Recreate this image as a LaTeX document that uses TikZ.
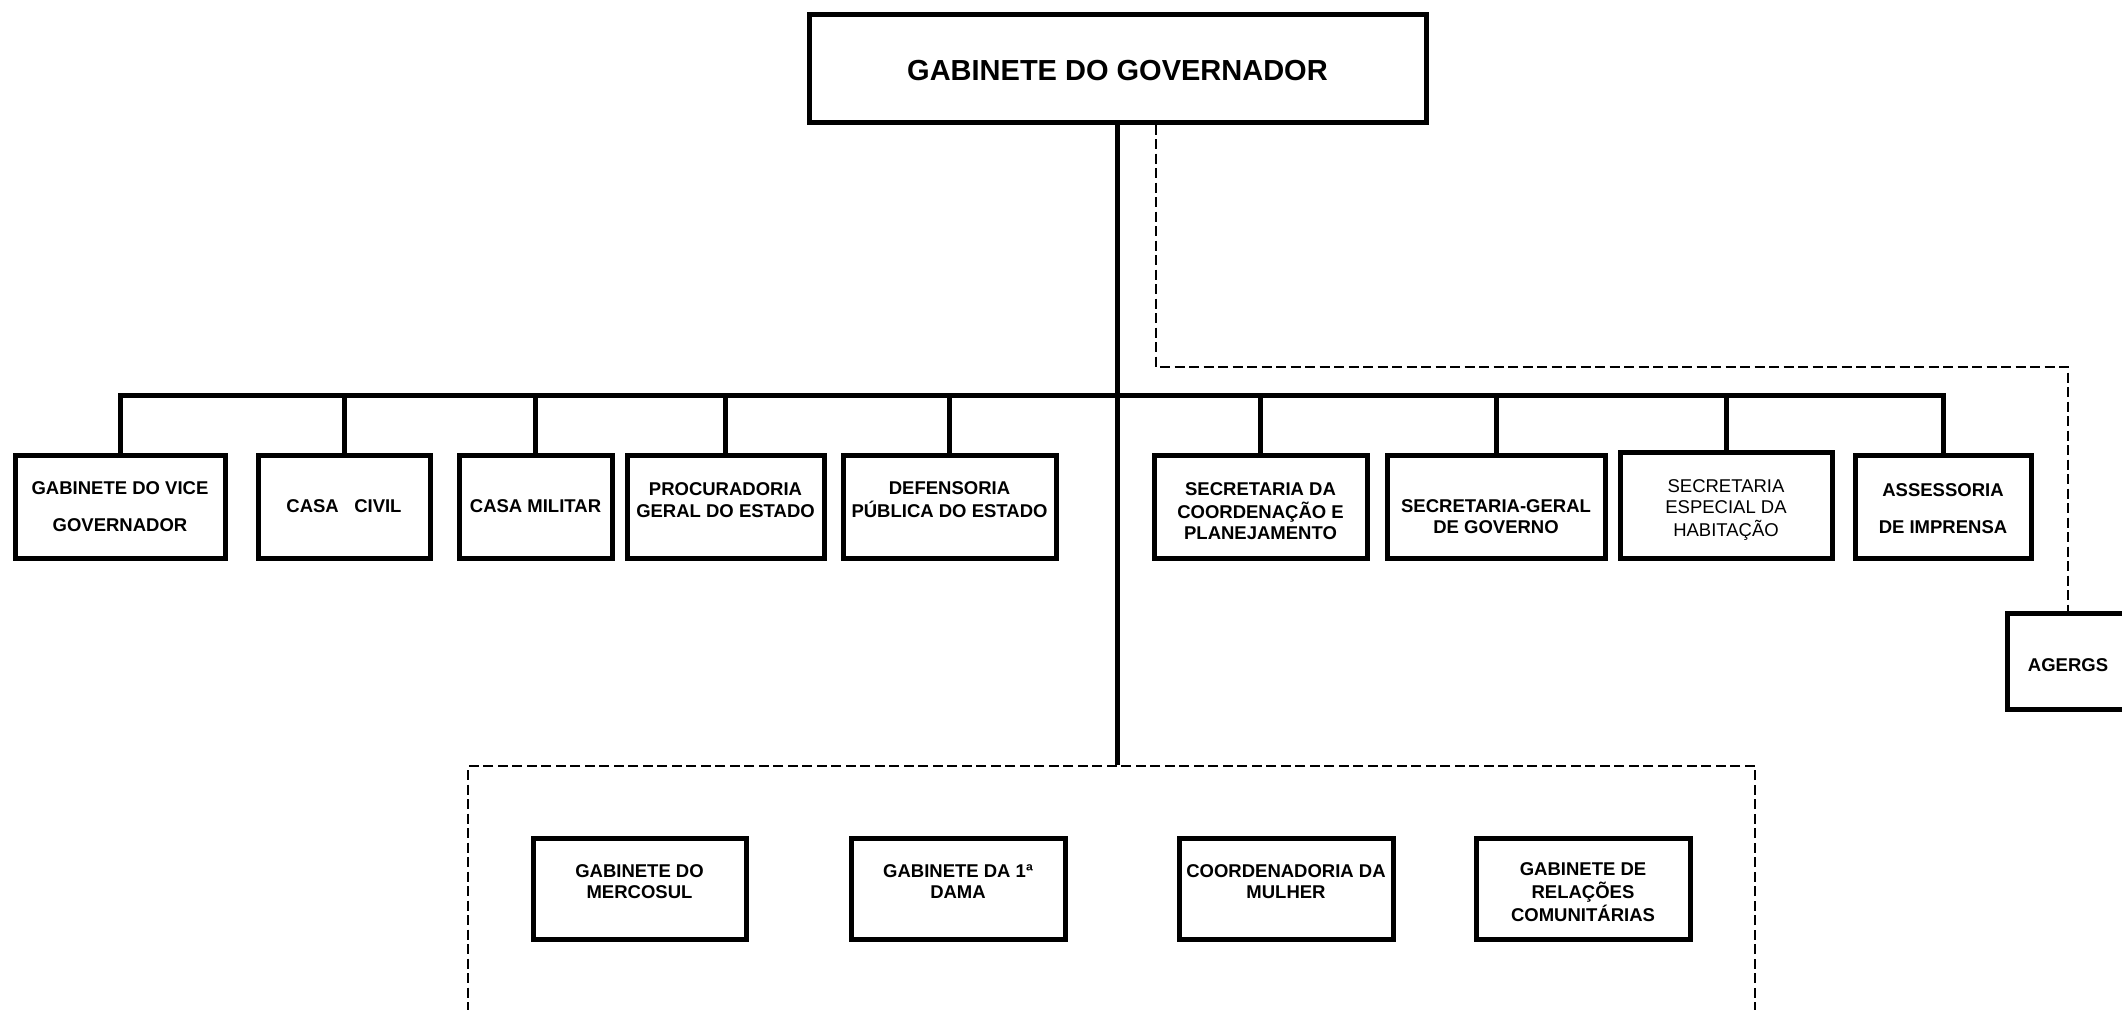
\documentclass[tikz,border=0pt]{standalone}
\usepackage{fontspec}
\setmainfont{Liberation Sans}
\newcommand{\bloco}[2]{\raisebox{#1}[\height][\depth]{\begin{tabular}{@{}c@{}}#2\end{tabular}}}
\begin{document}
\begin{tikzpicture}[x=1pt,y=-1pt,
    unit/.style={draw, rectangle, line width=5pt, align=center, inner sep=2pt, minimum height=103pt, font=\fontsize{18.5}{21.6}\selectfont\bfseries},
    bar/.style={line width=5pt},
    link/.style={line width=1.6pt, dash pattern=on 10pt off 4.5pt}]
  \useasboundingbox (0,0) rectangle (2122,1009);
  \clip (0,0) rectangle (2122,1009);
  \node[unit, minimum width=617pt, minimum height=108pt, font=\fontsize{29}{34}\selectfont\bfseries] (gov) at (1117.5,68) {\bloco{-6pt}{GABINETE DO GOVERNADOR}};
  \node[unit, minimum width=210pt] (vice) at (120,506.5) {GABINETE DO VICE\\[16pt]GOVERNADOR};
  \node[unit, minimum width=172pt] (civil) at (344,506.5) {CASA\ \ \ CIVIL};
  \node[unit, minimum width=153pt] (militar) at (535.5,506.5) {CASA MILITAR};
  \node[unit, minimum width=197pt] (pge) at (725.5,506.5) {\bloco{4.5pt}{PROCURADORIA\\GERAL DO ESTADO}};
  \node[unit, minimum width=213pt] (dpe) at (949.5,506.5) {\bloco{4.5pt}{DEFENSORIA\\PÚBLICA DO ESTADO}};
  \node[unit, minimum width=213pt] (seplan) at (1260.5,506.5) {\bloco{-6.5pt}{SECRETARIA DA\\COORDENAÇÃO E\\PLANEJAMENTO}};
  \node[unit, minimum width=218pt] (sgg) at (1496,506.5) {\bloco{-12pt}{SECRETARIA-GERAL\\DE GOVERNO}};
  \node[unit, minimum width=212pt, minimum height=106pt, font=\fontsize{18.5}{21.6}\selectfont] (habit) at (1726,505) {\bloco{-5pt}{SECRETARIA\\ESPECIAL DA\\HABITAÇÃO}};
  \node[unit, minimum width=176pt] (imprensa) at (1943,506.5) {\bloco{-4pt}{ASSESSORIA\\[16pt]DE IMPRENSA}};
  \node[unit, minimum width=122pt, minimum height=96pt] (agergs) at (2068,661) {\bloco{-6.5pt}{AGERGS}};
  \node[draw, link, minimum width=1287pt, minimum height=264pt] (grupo) at (1111.5,898) {};
  \node[unit, minimum width=213pt, minimum height=101pt] (mercosul) at (639.5,888.5) {\bloco{5pt}{GABINETE DO\\MERCOSUL}};
  \node[unit, minimum width=214pt, minimum height=101pt] (dama) at (958,888.5) {\bloco{5pt}{GABINETE DA 1ª\\DAMA}};
  \node[unit, minimum width=214pt, minimum height=101pt] (mulher) at (1286,888.5) {\bloco{5pt}{COORDENADORIA DA\\MULHER}};
  \node[unit, minimum width=214pt, minimum height=101pt] (relacoes) at (1583,888.5) {\bloco{-6pt}{GABINETE DE\\RELAÇÕES\\COMUNITÁRIAS}};
  \coordinate (bus) at (0,395);
  \coordinate (dobra) at (1156,367);
  \draw[bar] (gov.south) -- (gov.south |- grupo.north);
  \draw[bar, line cap=rect] (vice.north |- bus) -- (imprensa.north |- bus);
  \foreach \n in {vice,civil,militar,pge,dpe,seplan,sgg,habit,imprensa}
    \draw[bar] (\n.north) -- (\n.north |- bus);
  \draw[link] (gov.south -| dobra) |- (agergs.north |- dobra) -- (agergs.north);
\end{tikzpicture}
\end{document}
